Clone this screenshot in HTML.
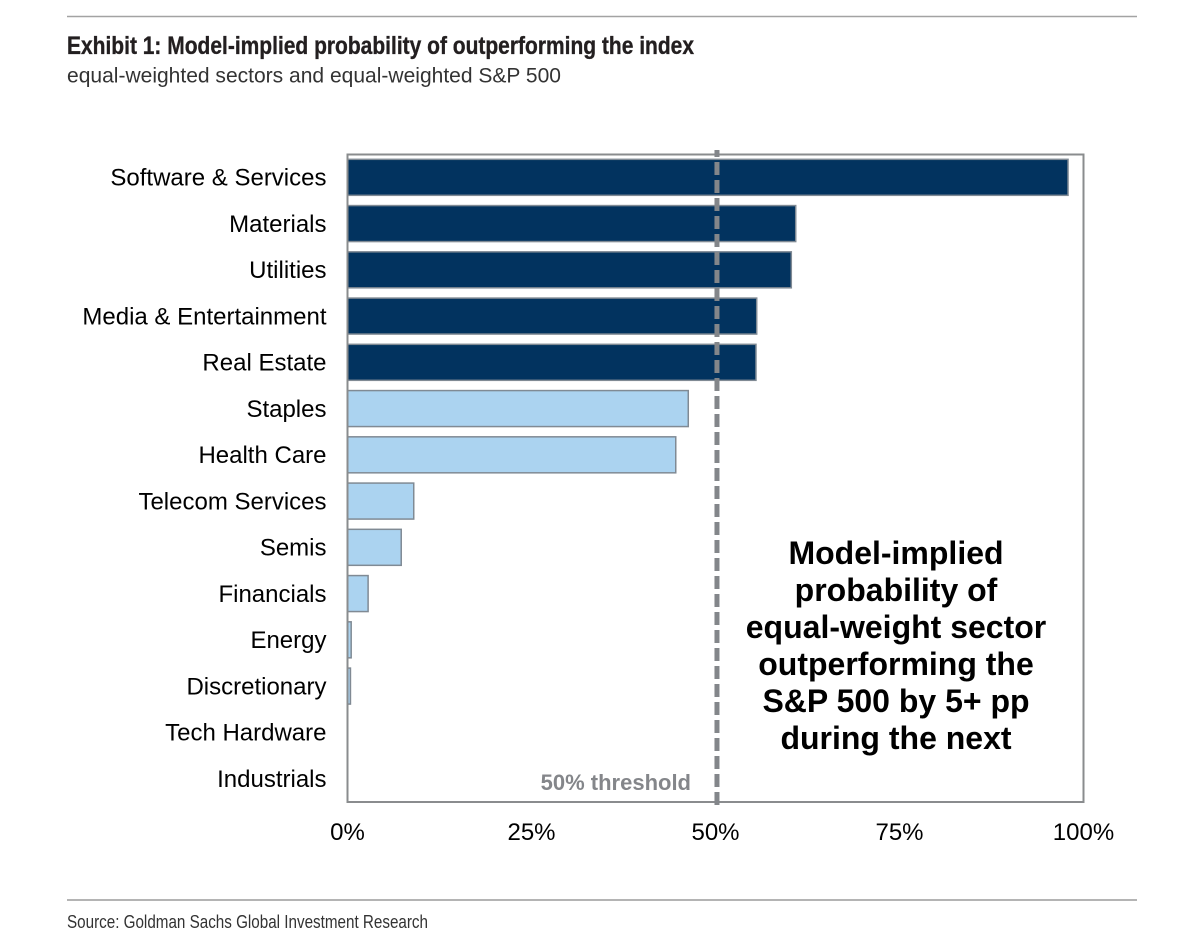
<!DOCTYPE html>
<html lang="en">
<head>
<meta charset="utf-8">
<title>Exhibit 1: Model-implied probability of outperforming the index</title>
<style>
  html, body { margin: 0; padding: 0; background: #fff; }
  body { width: 1200px; height: 948px; overflow: hidden; }
  svg { display: block; font-family: "Liberation Sans", Arial, sans-serif; filter: blur(0.35px); }
</style>
</head>
<body>
<svg id="chart" width="1200" height="948" viewBox="0 0 1200 948" xmlns="http://www.w3.org/2000/svg">
  <rect x="0" y="0" width="1200" height="948" fill="#ffffff"/>
  <line x1="67" x2="1137" y1="16.5" y2="16.5" stroke="#a3a3a3" stroke-width="1.6"/>
  <text x="67" y="54" font-size="25" font-weight="700" fill="#231f20" stroke="#231f20" stroke-width="0.35" textLength="627" lengthAdjust="spacingAndGlyphs">Exhibit 1: Model-implied probability of outperforming the index</text>
  <text x="67" y="82.5" font-size="21.5" fill="#333333" textLength="494" lengthAdjust="spacingAndGlyphs">equal-weighted sectors and equal-weighted S&amp;P 500</text>
  <g id="bars"></g>
  <rect x="347.5" y="154.5" width="736" height="647.5" fill="none" stroke="#8a8c8e" stroke-width="2"/>
  <g id="cat-labels"></g>
  <g id="x-ticks"></g>
  <line id="threshold" y1="150" y2="805" stroke="#83868a" stroke-width="5" stroke-dasharray="13 5" stroke-dashoffset="6"/>
  <text x="691" y="790" text-anchor="end" font-size="22" font-weight="700" fill="#84868a">50% threshold</text>
  <g font-size="32" font-weight="700" fill="#000000" text-anchor="middle">
    <text x="896" y="564">Model-implied</text>
    <text x="896" y="601">probability of</text>
    <text x="896" y="638">equal-weight sector</text>
    <text x="896" y="675">outperforming the</text>
    <text x="896" y="712">S&amp;P 500 by 5+ pp</text>
    <text x="896" y="749">during the next</text>
  </g>
  <line x1="67" x2="1137" y1="900" y2="900" stroke="#b4b4b4" stroke-width="2"/>
  <text x="67" y="928" font-size="18.5" fill="#333333" textLength="361" lengthAdjust="spacingAndGlyphs">Source: Goldman Sachs Global Investment Research</text>
</svg>
<script>
const categories = ["Software & Services", "Materials", "Utilities", "Media & Entertainment", "Real Estate", "Staples", "Health Care", "Telecom Services", "Semis", "Financials", "Energy", "Discretionary", "Tech Hardware", "Industrials"];
const probabilities = [97.9, 60.9, 60.3, 55.6, 55.5, 46.3, 44.6, 9.0, 7.3, 2.8, 0.5, 0.4, 0, 0];
const xTicks = [0, 25, 50, 75, 100];
const threshold = 50.2;
const colourCutoff = 50;

const NS = "http://www.w3.org/2000/svg";
const plot = { left: 347.5, right: 1083.5, top: 154.5, bottom: 802 };
const xScale = v => plot.left + (v / 100) * (plot.right - plot.left);
const band = (plot.bottom - plot.top) / categories.length;
const yScale = i => plot.top + band * i;
const barHeight = 36;

const barsGroup = document.getElementById("bars");
const labelsGroup = document.getElementById("cat-labels");
const ticksGroup = document.getElementById("x-ticks");

categories.forEach((name, i) => {
  const value = probabilities[i];
  const slug = name.toLowerCase().replace(/[^a-z]+/g, "-");
  if (value > 0) {
    const r = document.createElementNS(NS, "rect");
    r.setAttribute("x", xScale(0));
    r.setAttribute("y", yScale(i) + (band - barHeight) / 2 - 0.3);
    r.setAttribute("width", xScale(value) - xScale(0));
    r.setAttribute("height", barHeight);
    r.setAttribute("fill", value >= colourCutoff ? "#02335f" : "#abd3f0");
    r.setAttribute("stroke", "#808a94");
    r.setAttribute("stroke-width", "1.5");
    
    
    barsGroup.appendChild(r);
  }
  const t = document.createElementNS(NS, "text");
  t.setAttribute("x", 326.5);
  t.setAttribute("y", yScale(i) + band / 2 + 8);
  t.setAttribute("text-anchor", "end");
  t.setAttribute("font-size", "24");
  t.setAttribute("fill", "#000");
  t.textContent = name;
  
  
  labelsGroup.appendChild(t);
});

xTicks.forEach(v => {
  const t = document.createElementNS(NS, "text");
  t.setAttribute("x", xScale(v));
  t.setAttribute("y", 840);
  t.setAttribute("text-anchor", "middle");
  t.setAttribute("font-size", "24");
  t.setAttribute("fill", "#000");
  t.textContent = v + "%";
  
  
  ticksGroup.appendChild(t);
});

const th = document.getElementById("threshold");
th.setAttribute("x1", xScale(threshold));
th.setAttribute("x2", xScale(threshold));
</script>
</body>
</html>
